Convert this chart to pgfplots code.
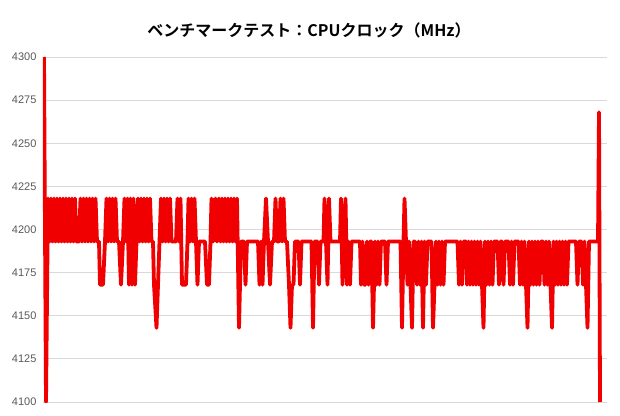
\documentclass[border=0pt]{standalone}
\usepackage{fontspec}
\setmainfont{Liberation Sans}
\newfontfamily\cjk{Noto Sans CJK JP}[BoldFont={Noto Sans CJK JP Bold}]
\usepackage{pgfplots}
\pgfplotsset{compat=1.18}

\definecolor{gridgray}{HTML}{D9D9D9}
\definecolor{labelgray}{HTML}{595959}
\definecolor{linered}{HTML}{F00000}

\begin{document}
\begin{tikzpicture}
\useasboundingbox (0,0) rectangle (620pt,415pt);
\begin{axis}[
    at={(43pt,13pt)}, anchor=south west,
    scale only axis,
    width=564pt, height=345pt,
    xmin=43, xmax=607,
    ymin=4100, ymax=4300,
    ytick={4100,4125,...,4300},
    xtick=\empty,
    axis line style={draw=none},
    tick style={draw=none},
    ymajorgrids,
    major grid style={gridgray, line width=0.9pt},
    yticklabel style={font=\fontsize{11}{13}\selectfont, text=labelgray, xshift=-3pt},
    /pgf/number format/assume math mode=true,
    /pgf/number format/1000 sep={},
]
% x: sample position, y: CPU clock (MHz)
\addplot[linered, line width=3.8pt, line join=round, no markers] coordinates {
(44,4300) (46,4100)
(48,4218) (49.5,4193) (51,4218) (52.5,4193) (54,4218) (55.5,4193) (57,4218) (58.5,4193)
(60,4218) (61.5,4193) (63,4218) (64.5,4193) (66,4218) (67.5,4193) (69,4218) (70.5,4193)
(72,4218) (73.5,4193) (75,4218) (76.5,4193)
(79,4193)
(80.5,4218) (82,4193) (83.5,4218) (85,4193) (86.5,4218) (88,4193) (89.5,4218) (91,4193)
(92.5,4218) (94,4193) (95.5,4218) (97,4193)
(99,4193) (100,4168) (103,4168) (105,4193)
(106.5,4218) (108,4193) (109.5,4218) (111,4193) (112.5,4218) (114,4193) (115.5,4218) (117,4193)
(119,4193) (121,4168) (123,4193)
(124.5,4218) (126,4193) (127.5,4218) (129,4168) (130.5,4218) (132,4168) (133.5,4218) (135,4168)
(136.5,4193)
(138,4218) (139.5,4193) (141,4218) (142.5,4193) (144,4218) (145.5,4193) (147,4218) (148.5,4193)
(150,4218) (151.5,4193)
(153,4193) (154,4168) (156.5,4143) (158,4168) (159.5,4193)
(161,4218) (162.5,4193) (164,4218) (165.5,4193) (167,4218) (168.5,4193) (170,4218) (171.5,4193)
(176,4193) (177.5,4218) (179,4193) (180.5,4218) (182,4168) (186,4168) (187.5,4193)
(188.5,4218) (190,4193) (191.5,4218) (193,4193) (194.5,4218) (196,4193)
(197.5,4168) (199,4193)
(205,4193) (207,4168) (209,4168) (210.5,4193)
(211.5,4218) (213,4193) (215.5,4218) (217,4193)
(219,4218) (220.5,4193) (222,4218) (223.5,4193) (225,4218) (226.5,4193) (228,4218) (229.5,4193)
(231,4218) (232.5,4193) (234,4218) (235.5,4193) (237,4218) (239,4143) (241,4193)
(244,4193) (245.5,4168) (247,4193)
(258,4193) (259.5,4168) (261,4193) (262.5,4168) (264,4193) (266,4218) (268,4193) (270,4168) (272,4193)
(274,4193) (275.5,4218) (277,4193)
(279,4193) (280.5,4218) (282,4193) (283.5,4218) (285,4193)
(287,4193) (289,4168) (290.5,4143) (292,4168) (293.5,4168) (295,4193)
(298.5,4193) (300,4168) (301.5,4193)
(311.5,4193) (313,4143) (314.5,4193)
(317.5,4193) (319,4168) (320.5,4193)
(323.5,4193) (324.5,4218) (326,4193) (327.5,4168) (329,4218) (330.5,4193)
(340,4193) (341,4218) (342.5,4168) (344,4193) (345.5,4218) (347,4168) (348.5,4193) (350,4168) (351.5,4193)
(360,4193) (361,4168) (362.5,4193) (364,4168) (365.5,4168) (367,4193)
(368.5,4168) (370,4193) (371.5,4193) (373,4143) (375,4193) (376.5,4168) (378,4193) (379.5,4168) (381,4193)
(385,4193) (386.5,4168) (388,4193)
(400.5,4193) (402,4143) (403.5,4193) (404.5,4218) (406,4193) (407.5,4168) (409,4193) (410.5,4168)
(412,4143) (413.5,4193) (415,4193) (417,4168) (418.5,4193) (420,4168) (421.5,4193) (423,4143)
(424.5,4193) (426,4168) (427.5,4193)
(431.5,4193) (433,4143) (434.5,4168) (436,4193) (437.5,4168) (439,4193) (440.5,4168) (442,4193)
(443.5,4168) (445,4193)
(457.5,4193) (459,4168) (460.5,4193) (462,4168) (463.5,4193)
(466,4193) (467,4168) (468.5,4193) (470,4168) (471.5,4193) (473,4168) (474.5,4193) (476,4168)
(477.5,4193) (479,4168) (480.5,4193) (482,4168) (483.5,4143) (485,4193) (486.5,4168) (488,4193)
(489.5,4168) (491,4193) (492.5,4168) (494,4193)
(497.5,4193) (499,4168) (500.5,4193) (502,4193) (503.5,4168) (505,4193)
(508.5,4193) (510,4168) (511.5,4193) (513,4168) (514.5,4193)
(518.5,4193) (520,4168) (521.5,4193) (523,4168) (524.5,4193) (526,4168) (527.5,4143) (529,4193)
(530.5,4168) (532,4193) (533.5,4168) (535,4193) (536.5,4168) (538,4193) (539.5,4168) (541,4193)
(543,4193) (544.5,4168) (546,4193) (547.5,4168) (549,4193) (550.5,4168) (552,4143) (553.5,4193)
(555,4168) (556.5,4193) (558,4168) (559.5,4193) (561,4168) (562.5,4193) (564,4168) (565.5,4193)
(567,4168) (568.5,4193)
(576,4193) (577.5,4168) (579,4193)
(581.5,4193) (583,4168) (584.5,4193) (586,4168) (587.5,4143) (589,4193)
(598,4193) (599,4268) (600,4100)
};
\end{axis}
\node[font=\cjk\bfseries\fontsize{16}{18}\selectfont, anchor=center] at (309pt,385pt)
    {ベンチマークテスト：CPUクロック（MHz）};
\end{tikzpicture}
\end{document}
